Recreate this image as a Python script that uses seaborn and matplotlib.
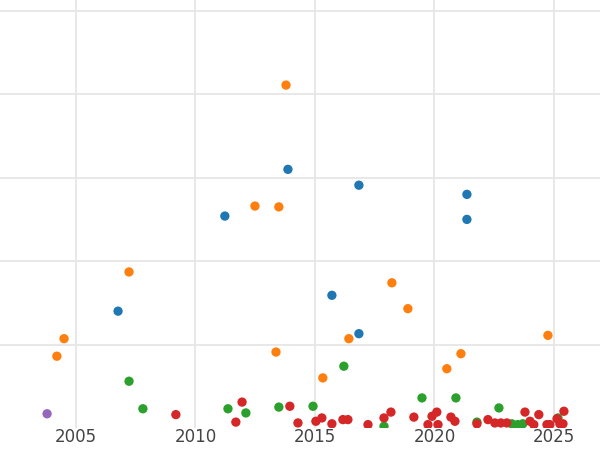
import numpy as np
import pandas as pd
import seaborn as sns
import matplotlib.pyplot as plt

blue_x = [2006.76, 2011.23, 2013.87, 2015.71, 2016.84, 2016.84, 2021.36, 2021.36]
blue_y = [1.40, 2.54, 3.10, 1.59, 2.91, 1.13, 2.80, 2.50]
orange_x = [2004.2, 2004.5, 2007.22, 2012.49, 2013.37, 2013.49, 2013.79, 2015.33,
            2016.42, 2018.22, 2018.89, 2020.52, 2021.11, 2024.75]
orange_y = [0.86, 1.07, 1.87, 2.66, 0.91, 2.65, 4.11, 0.60, 1.07, 1.74, 1.43, 0.71, 0.89, 1.11]
green_x = [2007.22, 2007.8, 2011.36, 2012.11, 2013.49, 2014.92, 2016.21, 2017.89,
           2019.48, 2020.9, 2021.78, 2022.7, 2023.24, 2023.49, 2023.7, 2025.17]
green_y = [0.56, 0.23, 0.23, 0.18, 0.25, 0.26, 0.74, 0.02, 0.36, 0.36, 0.07, 0.24, 0.05, 0.04, 0.05, 0.12]
red_x = [2009.18, 2011.69, 2011.95, 2013.95, 2014.29, 2015.04, 2015.29, 2015.71, 2016.17,
         2016.38, 2017.22, 2017.89, 2018.18, 2019.14, 2019.73, 2019.9, 2020.1, 2020.15,
         2020.69, 2020.86, 2021.78, 2022.24, 2022.53, 2022.78, 2023.03, 2023.79, 2024.0,
         2024.16, 2024.37, 2024.71, 2024.83, 2025.13, 2025.25, 2025.38, 2025.42]
red_y = [0.16, 0.07, 0.31, 0.26, 0.06, 0.08, 0.12, 0.05, 0.10, 0.10, 0.04, 0.12, 0.19, 0.13,
         0.04, 0.14, 0.19, 0.04, 0.13, 0.08, 0.05, 0.10, 0.06, 0.06, 0.06, 0.19, 0.08, 0.04,
         0.16, 0.04, 0.04, 0.11, 0.05, 0.05, 0.20]
purple_x = [2003.79]
purple_y = [0.17]

groups = [("blue", blue_x, blue_y), ("orange", orange_x, orange_y), ("green", green_x, green_y),
          ("red", red_x, red_y), ("purple", purple_x, purple_y)]
df = pd.concat([pd.DataFrame({"year": x, "value": y, "group": g}) for g, x, y in groups])

sns.set_theme(style="whitegrid")
fig = plt.figure(figsize=(6, 4.5), dpi=100)
ax = fig.add_axes([0, 0.049, 1, 0.951])
palette = {"blue": "#1f77b4", "orange": "#ff7f0e", "green": "#2ca02c", "red": "#d62728", "purple": "#9467bd"}
sns.scatterplot(data=df, x="year", y="value", hue="group", palette=palette, s=45,
                linewidth=0, legend=False, ax=ax)

ax.set_xlim(2001.82, 2026.93)
ax.set_ylim(0, 5.13)
ax.set_xticks([2005, 2010, 2015, 2020, 2025])
ax.set_yticks([1, 2, 3, 4, 5])
ax.set_yticklabels([])
ax.grid(True, which="major", color="#e6e6e6", linewidth=1.3)
ax.tick_params(axis="x", labelsize=12, colors="#444444", pad=0, length=0)
ax.tick_params(axis="y", length=0)
ax.set_xlabel("")
ax.set_ylabel("")
ax.set_facecolor("white")
for s in ax.spines.values():
    s.set_visible(False)
fig.savefig("out.png", dpi=100)
